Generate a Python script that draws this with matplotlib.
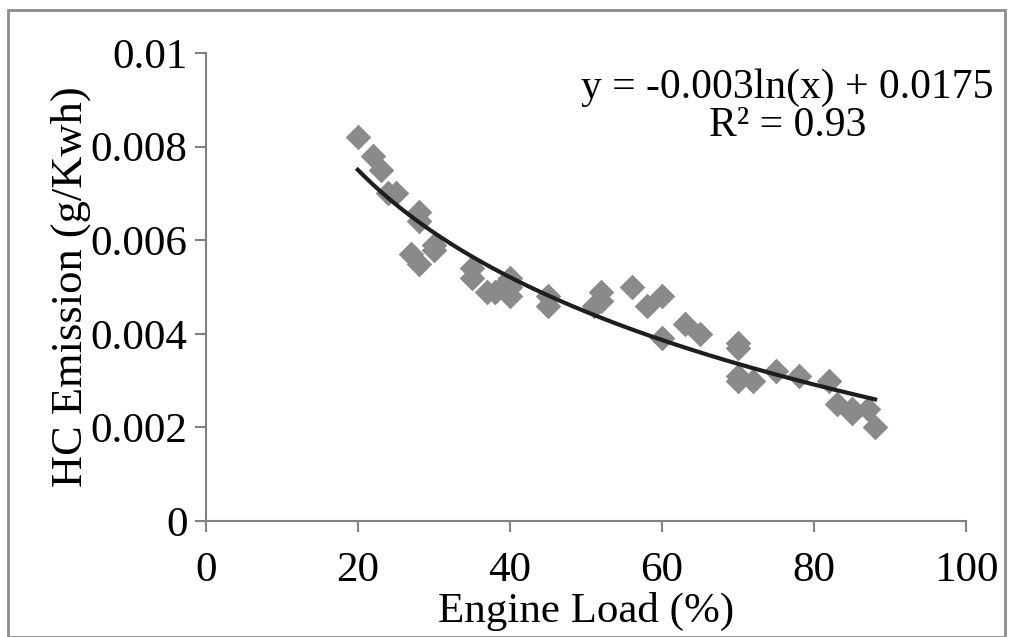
import numpy as np
import matplotlib
matplotlib.use("Agg")
import matplotlib.pyplot as plt
from matplotlib.patches import Rectangle

load = [20, 22, 23, 24, 25, 27, 28, 28, 28, 30, 30, 35, 35, 37, 38, 39, 40, 40, 40,
        45, 45, 51, 52, 52, 56, 58, 60, 60, 63, 65, 70, 70, 70, 70, 72, 75, 78, 82,
        83, 85, 85, 87, 88]
hc = [0.0082, 0.0078, 0.0075, 0.0070, 0.0070, 0.0057, 0.0055, 0.0066, 0.0064, 0.0059, 0.0058,
      0.0054, 0.0052, 0.0049, 0.0049, 0.0050, 0.0048, 0.0052, 0.0050,
      0.0048, 0.0046, 0.0046, 0.0049, 0.0047, 0.0050, 0.0046, 0.0048, 0.0039,
      0.0042, 0.0040, 0.0038, 0.0037, 0.0030, 0.0031, 0.0030, 0.0032, 0.0031, 0.0030,
      0.0025, 0.0023, 0.0024, 0.0024, 0.0020]
xticks = [0, 20, 40, 60, 80, 100]
yticks = [0, 0.002, 0.004, 0.006, 0.008, 0.01]
yticklabels = ["0", "0.002", "0.004", "0.006", "0.008", "0.01"]

plt.rcParams['font.family'] = ['Liberation Serif', 'DejaVu Serif']

fig = plt.figure(figsize=(10.13, 6.37), dpi=100)
ax = fig.add_axes([0.203, 0.182, 0.751, 0.735])

ax.scatter(load, hc, marker='D', s=170, color='#8a8a8a', zorder=2, linewidths=0)

x = np.array(load, float)
y = np.array(hc, float)
a, b = np.polyfit(np.log(x), y, 1)
xf = np.linspace(x.min(), x.max(), 200)
ax.plot(xf, a * np.log(xf) + b, color='#1e1e1e', lw=3, zorder=3)

ax.set_xlim(0, 100)
ax.set_ylim(0, 0.01)
ax.set_xticks(xticks)
ax.set_xticklabels([str(t) for t in xticks])
ax.set_yticks(yticks)
ax.set_yticklabels(yticklabels)
for s in ['top', 'right']:
    ax.spines[s].set_visible(False)
for s in ['left', 'bottom']:
    ax.spines[s].set_color('#808080')
    ax.spines[s].set_linewidth(1.5)
ax.tick_params(axis='both', labelsize=31, color='#808080', width=1.5, length=8, pad=5)
ax.tick_params(axis='x', pad=14)

ax.set_xlabel("Engine Load (%)", fontsize=31, labelpad=1)
ax.set_ylabel("HC Emission (g/Kwh)", fontsize=32, labelpad=0)

ax.text(0.765, 0.885, "y = -0.003ln(x) + 0.0175\nR² = 0.93", transform=ax.transAxes,
        ha='center', va='center', fontsize=30, linespacing=1.0)

fig.patches.append(Rectangle((0.008, 0.0), 0.984, 0.985, transform=fig.transFigure,
                             fill=False, edgecolor='#8c8c8c', lw=2))

fig.savefig("out.png", dpi=100)
